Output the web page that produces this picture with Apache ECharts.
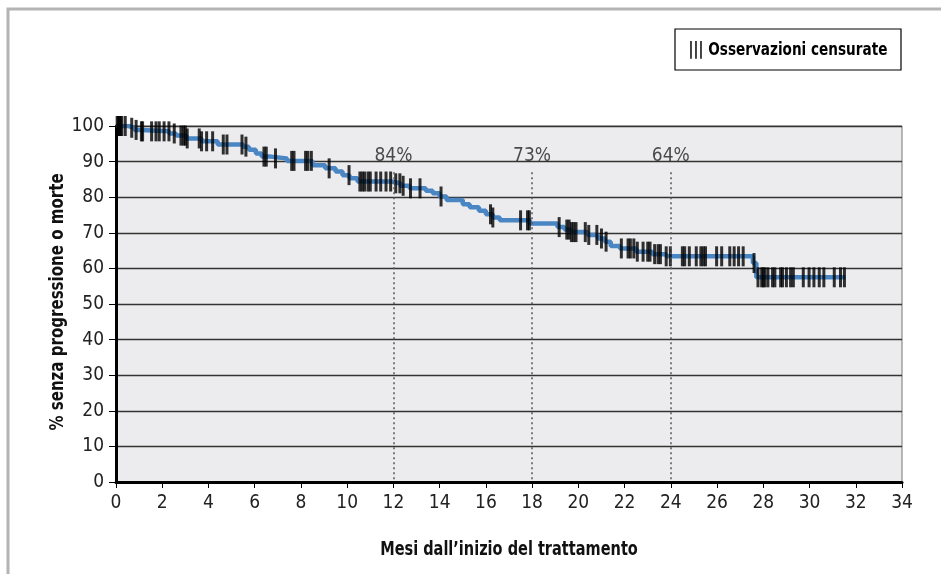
<!DOCTYPE html>
<html><head><meta charset="utf-8">
<script src="https://cdn.jsdelivr.net/npm/echarts@6/dist/echarts.min.js"></script>
<style>html,body{margin:0;padding:0;background:#fff}#c{width:941px;height:574px}</style>
</head><body><div id="c"></div>
<script>
// Kaplan-Meier step curve (month, % free of progression or death)
const curveMonths = [0, 0.55, 0.8, 1.1, 2.3, 2.6, 3.05, 3.7, 4.4, 5.5, 5.75, 6.05, 6.3, 6.7, 7.4, 8.5, 9.05, 9.5, 9.8, 10.1, 10.45, 11.9, 12.3, 12.7, 13.4, 13.7, 14.0, 14.3, 15.0, 15.3, 15.7, 16.0, 16.3, 16.6, 17.9, 19.1, 19.4, 19.7, 20.4, 20.85, 21.15, 21.4, 21.8, 22.5, 23.2, 23.8, 27.55, 27.7, 31.55];
const curveValues = [100, 99.5, 98.9, 98.5, 97.9, 97.3, 96.5, 95.7, 94.8, 94.2, 93.3, 92.3, 91.4, 90.9, 90.2, 89.0, 88.1, 87.2, 86.2, 85.3, 84.4, 83.9, 83.2, 82.5, 81.8, 81.1, 80.2, 79.2, 78.0, 77.2, 76.2, 75.2, 74.3, 73.5, 72.6, 71.6, 70.9, 70.2, 69.4, 68.4, 67.5, 66.3, 65.6, 64.7, 64.0, 63.4, 61.5, 57.5, 57.5];
// censored observations (months)
const censorMonths = [0.05, 0.1, 0.15, 0.2, 0.25, 0.4, 0.68, 0.87, 1.1, 1.15, 1.54, 1.73, 1.87, 2.08, 2.29, 2.52, 2.81, 2.92, 3.0, 3.08, 3.6, 3.7, 3.92, 4.18, 4.64, 4.8, 5.45, 5.62, 6.4, 6.5, 6.9, 7.6, 7.7, 8.2, 8.3, 8.45, 9.22, 10.08, 10.55, 10.65, 10.75, 10.9, 11.0, 11.25, 11.45, 11.68, 11.88, 12.1, 12.28, 12.42, 12.74, 13.15, 14.06, 16.2, 16.3, 17.5, 17.8, 17.88, 19.17, 19.5, 19.6, 19.7, 19.8, 19.9, 20.3, 20.45, 20.8, 21.0, 21.2, 21.86, 22.15, 22.25, 22.4, 22.55, 22.8, 23.0, 23.1, 23.3, 23.45, 23.55, 23.8, 23.98, 24.5, 24.6, 24.8, 25.1, 25.3, 25.4, 25.5, 25.98, 26.2, 26.55, 26.74, 26.93, 27.13, 27.6, 27.77, 27.93, 28.0, 28.07, 28.2, 28.4, 28.5, 28.75, 28.83, 29.0, 29.18, 29.3, 29.73, 29.98, 30.19, 30.42, 30.62, 31.07, 31.34, 31.51];
// milestones
const milestoneMonths = [12, 18, 24];
const milestoneLabels = ['84%', '73%', '64%'];
const milestoneLineTop = 87;
const milestoneLabelY = 91.5;
const xTicks = [0, 34, 2];
const yTicks = [0, 100, 10];
const xTitle = 'Mesi dall\u2019inizio del trattamento';
const yTitle = '% senza progressione o morte';
const legendText = '||| Osservazioni censurate';

const FONT = '"Liberation Sans Narrow","DejaVu Sans Condensed","Roboto Condensed",sans-serif';

function survAt(t) {
  let v = curveValues[0];
  for (let i = 0; i < curveMonths.length; i++) { if (curveMonths[i] <= t) v = curveValues[i]; else break; }
  return v;
}
const curveData = curveMonths.map((m, i) => [m, curveValues[i]]);
const censorData = censorMonths.map(m => [m, survAt(m)]);

const chart = echarts.init(document.getElementById('c'), null, {renderer: 'canvas'});
chart.setOption({
  backgroundColor: '#fff',
  animation: false,
  grid: {left: 116, right: 39, top: 126, bottom: 92, show: true, backgroundColor: '#ececee', borderColor: '#777', borderWidth: 1},
  xAxis: {
    type: 'value', min: xTicks[0], max: xTicks[1], interval: xTicks[2],
    axisLine: {show: true, onZero: false, lineStyle: {color: '#000', width: 3}},
    axisTick: {show: true, length: 6, lineStyle: {color: '#000', width: 1}},
    axisLabel: {fontFamily: FONT, fontSize: 19, color: '#222', margin: 12},
    splitLine: {show: false}
  },
  yAxis: {
    type: 'value', min: yTicks[0], max: yTicks[1], interval: yTicks[2],
    axisLine: {show: true, onZero: false, lineStyle: {color: '#000', width: 3}},
    axisTick: {show: true, length: 7, lineStyle: {color: '#000', width: 1}},
    axisLabel: {fontFamily: FONT, fontSize: 19, color: '#222', margin: 12},
    splitLine: {show: true, lineStyle: {color: '#333', width: 1.3}}
  },
  series: [
    {
      type: 'line', data: curveData, step: 'end', showSymbol: false, z: 3,
      lineStyle: {color: '#4a86c4', width: 4.5}
    },
    {
      type: 'scatter', data: censorData, symbol: 'rect', symbolSize: [3, 20], z: 4,
      itemStyle: {color: '#000'}
    },
    {
      type: 'line', data: [], z: 2,
      markLine: {
        symbol: 'none', silent: true, label: {show: false},
        lineStyle: {color: '#555', type: [2, 3], width: 1.5},
        data: milestoneMonths.map(m => [{coord: [m, milestoneLineTop]}, {coord: [m, 0]}])
      }
    },
    {
      type: 'scatter', symbolSize: 0, z: 5,
      data: milestoneMonths.map((m, i) => ({value: [m, milestoneLabelY], name: milestoneLabels[i]})),
      label: {show: true, position: 'inside', formatter: p => p.name, fontFamily: FONT, fontSize: 19, color: '#222'}
    }
  ],
  graphic: [
    {type: 'polyline', shape: {points: [[8, 574], [8, 9], [941, 9]]}, style: {stroke: '#b4b4b4', lineWidth: 3, fill: null}},
    {type: 'rect', shape: {x: 675, y: 29, width: 226, height: 41}, style: {fill: '#fff', stroke: '#000', lineWidth: 1.2}},
    {type: 'text', x: 788, y: 50, scaleX: 0.84, style: {text: legendText, fontFamily: FONT, fontWeight: 'bold', fontSize: 18, fill: '#000', align: 'center', verticalAlign: 'middle'}},
    {type: 'text', x: 509, y: 550, scaleX: 0.85, style: {text: xTitle, fontFamily: FONT, fontWeight: 'bold', fontSize: 19, fill: '#111', align: 'center', verticalAlign: 'middle'}},
    {type: 'text', x: 58, y: 302, rotation: Math.PI / 2, scaleX: 0.88, style: {text: yTitle, fontFamily: FONT, fontWeight: 'bold', fontSize: 19, fill: '#111', align: 'center', verticalAlign: 'middle'}}
  ]
});
</script></body></html>
